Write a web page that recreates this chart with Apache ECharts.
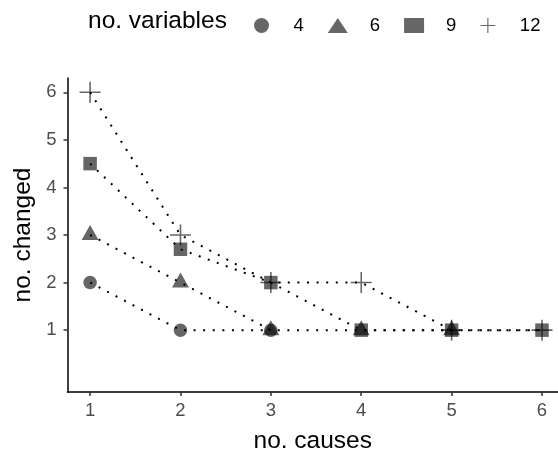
<!DOCTYPE html>
<html>
<head>
<meta charset="utf-8">
<script src="https://cdn.jsdelivr.net/npm/echarts@6/dist/echarts.min.js"></script>
<style>
  html, body { margin: 0; padding: 0; background: #fff; }
  #chart { width: 558px; height: 459px; }
</style>
</head>
<body>
<div id="chart"></div>
<script>
// no. causes on x, no. changed on y, one series per no. of variables
var causes = [1, 2, 3, 4, 5, 6];
var tickValues = [1, 2, 3, 4, 5, 6];
var groupNames = ['4', '6', '9', '12'];
var changed4 = [2, 1, 1];
var changed6 = [3, 2, 1, 1, 1];
var changed9 = [4.5, 2.7, 2, 1, 1, 1];
var changed12 = [6, 3, 2, 2, 1, 1];

var FONT = '"Liberation Sans", Arial, sans-serif';
var plusPath = 'path://M9.25,0h1.5v9.25h9.25v1.5h-9.25v9.25h-1.5v-9.25h-9.25v-1.5h9.25z';

function pairs(vals) {
  return vals.map(function (v, i) { return [causes[i], v]; });
}

var groups = [
  { name: groupNames[0], vals: changed4, symbol: 'circle', size: 13.5, offset: [0, 0] },
  { name: groupNames[1], vals: changed6, symbol: 'triangle', size: [17, 15], offset: [0, -2.5] },
  { name: groupNames[2], vals: changed9, symbol: 'rect', size: 13.5, offset: [0, 0] },
  { name: groupNames[3], vals: changed12, symbol: plusPath, size: 21, offset: [0, 0] }
];

var series = [];
// points first (semi transparent, so overlaps get darker)
groups.forEach(function (g) {
  series.push({
    name: g.name,
    type: 'scatter',
    data: pairs(g.vals),
    symbol: g.symbol,
    symbolSize: g.size,
    symbolOffset: g.offset,
    itemStyle: { color: '#000', opacity: 0.6 },
    z: 2
  });
});
// dotted lines drawn over the points
groups.forEach(function (g) {
  series.push({
    name: 'line ' + g.name,
    type: 'line',
    data: pairs(g.vals),
    showSymbol: false,
    symbol: 'none',
    lineStyle: { color: '#000', width: 2, type: [2, 7.6], cap: 'butt' },
    z: 3
  });
});

var chart = echarts.init(document.getElementById('chart'));
chart.setOption({
  animation: false,
  textStyle: { fontFamily: FONT },
  grid: { left: 67.5, right: 0, top: 78, bottom: 65 },
  legend: {
    left: 249,
    top: 11,
    itemWidth: 20,
    itemHeight: 15,
    itemGap: 24,
    data: groupNames,
    textStyle: { fontSize: 18.5, color: '#000', fontFamily: FONT, padding: [0, 0, 0, 17] }
  },
  graphic: [{
    type: 'text',
    x: 88,
    y: 21,
    style: { text: 'no. variables', fontSize: 24.5, fontFamily: FONT, fill: '#000', verticalAlign: 'middle' }
  }],
  xAxis: {
    type: 'value',
    min: 0.75,
    max: 6.177,
    name: 'no. causes',
    nameLocation: 'middle',
    nameGap: 37,
    nameTextStyle: { fontSize: 24.5, color: '#000', fontFamily: FONT },
    axisLine: { onZero: false, lineStyle: { color: '#000', width: 1.5 } },
    axisTick: { customValues: tickValues, length: 4, lineStyle: { color: '#333', width: 1.5 } },
    axisLabel: { customValues: tickValues, fontSize: 18.5, color: '#4d4d4d', margin: 9 },
    splitLine: { show: false }
  },
  yAxis: {
    type: 'value',
    min: -0.3,
    max: 6.3,
    name: 'no. changed',
    nameLocation: 'middle',
    nameGap: 29,
    nameTextStyle: { fontSize: 24.5, color: '#000', fontFamily: FONT },
    axisLine: { onZero: false, lineStyle: { color: '#000', width: 1.5 } },
    axisTick: { customValues: tickValues, length: 4, lineStyle: { color: '#333', width: 1.5 } },
    axisLabel: { customValues: tickValues, fontSize: 18.5, color: '#4d4d4d', margin: 11 },
    splitLine: { show: false }
  },
  series: series
});
</script>
</body>
</html>
